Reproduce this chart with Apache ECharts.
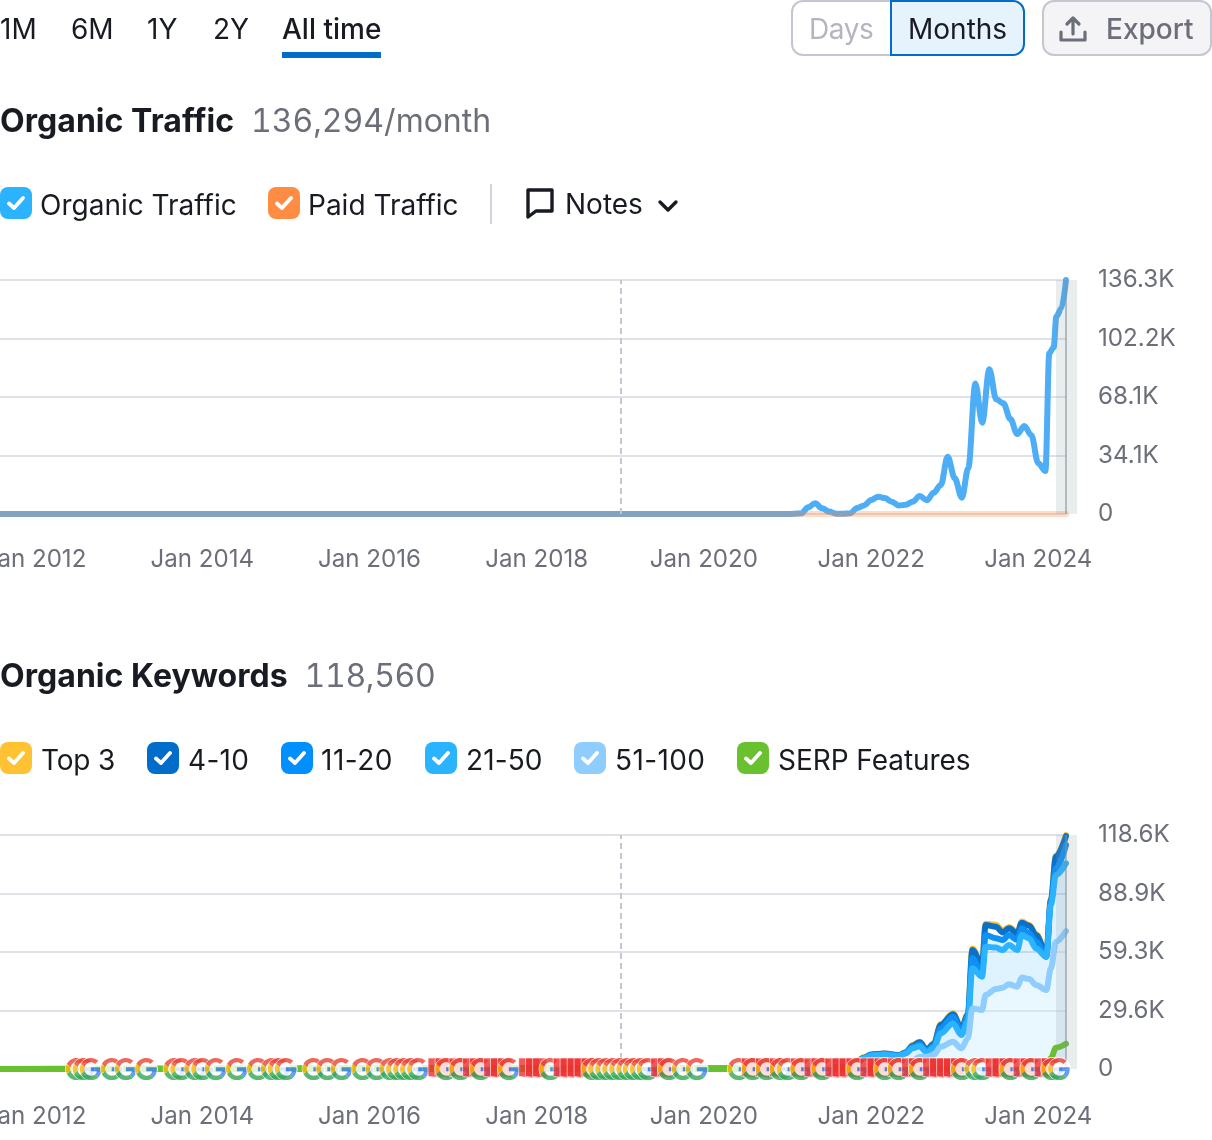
<!DOCTYPE html>
<html><head><meta charset="utf-8">
<script src="https://cdn.jsdelivr.net/npm/echarts@6/dist/echarts.min.js"></script>
<style>
html,body{margin:0;padding:0;background:#fff;width:1212px;height:1140px;overflow:hidden;font-family:Inter,sans-serif}
#chart{position:absolute;left:0;top:0;width:1212px;height:1140px}
#ui{position:absolute;left:0;top:0;width:1212px;height:1140px;overflow:hidden;color:#191b23}
#ui>*{position:absolute;white-space:nowrap;box-sizing:border-box}
.t{font-size:28px;line-height:36px;letter-spacing:0}
.h{font-size:32px;line-height:40px;font-weight:700;letter-spacing:.05px}
.s{font-size:32px;line-height:40px;color:#6c6e79;letter-spacing:0;font-variant-numeric:tabular-nums}
.box{width:32px;height:32px;border-radius:8px;display:flex;align-items:center;justify-content:center}
</style></head><body>
<div id="chart"></div>
<div id="ui"></div>
<script>
// ---- values ----
const trafficDates = ['2011-08-01','2021-01-01','2021-03-01','2021-04-01','2021-05-01','2021-06-01','2021-07-01','2021-08-01','2021-09-01','2021-10-01','2021-11-01','2021-12-01','2022-01-01','2022-02-01','2022-03-01','2022-04-01','2022-05-01','2022-06-01','2022-07-01','2022-08-01','2022-09-01','2022-10-01','2022-11-01','2022-12-01','2023-01-01','2023-02-01','2023-03-01','2023-04-01','2023-05-01','2023-06-01','2023-07-01','2023-08-01','2023-09-01','2023-10-01','2023-11-01','2023-12-01','2024-01-01','2024-02-01','2024-02-18','2024-03-08','2024-03-20','2024-04-11','2024-05-01'];
const organicTraffic = [0,0,400,3900,6200,3300,1400,200,200,400,3500,5000,8200,10100,9300,7200,4900,5400,7200,10500,8000,12400,16900,33400,20800,9500,26600,76000,53200,84300,66800,64500,55300,46600,51300,46000,29500,25000,93600,97100,115000,119800,136294];
const paidDates = ['2011-08-01','2024-05-01'];
const paidTraffic = [0,0];

const keywordDates = ['2011-08-01','2021-06-01','2021-10-01','2021-12-01','2022-01-01','2022-03-01','2022-05-01','2022-06-01','2022-07-01','2022-08-01','2022-09-01','2022-10-01','2022-11-01','2022-12-24','2023-01-30','2023-02-27','2023-03-19','2023-04-30','2023-05-16','2023-06-30','2023-07-29','2023-08-26','2023-10-01','2023-10-21','2023-11-22','2023-12-22','2024-02-05','2024-02-25','2024-03-18','2024-05-01'];
const top3 =   [0,300,1000,5900,7400,7900,7100,8600,12200,13800,10100,13000,22800,28200,21100,27900,61100,53200,73600,73100,70100,72000,69200,74700,73100,68400,59100,86100,108100,118560];
const kw4_10 = [0,300,1000,5700,7300,7800,6900,8400,11800,13500,9800,12700,22300,27700,20600,27400,60300,52700,73000,72100,69200,71300,68700,74100,72600,67900,58600,85600,107600,118000];
const kw11_20 =[0,300,900,5600,7100,7600,6800,8300,11100,12500,9100,11800,20600,26500,18900,26500,56100,48500,67900,66200,65400,67900,65400,71300,68700,64500,56900,84800,101700,113500];
const kw21_50 =[0,200,800,5400,6800,7300,6400,7900,10500,11500,8400,10800,18100,23100,17200,24000,51000,46800,62000,61500,60300,62800,60300,67900,66200,61100,56900,83100,98300,104200];
const kw51_100=[0,100,300,1200,1700,2000,1400,2400,4100,6200,6200,7100,11300,13800,10500,15500,30700,29900,37500,40500,41200,42900,41700,46300,45600,42600,40000,51000,64500,69900];
const serp =   [0,0,0,0,0,0,0,0,0,0,0,0,0,0,0,0,0,0,0,0,0,0,0,0,0,0,300,5400,10800,12800];

const googleMarks = ['2012-07','2012-08','2012-09','2012-12','2013-02','2013-05','2013-09','2013-10','2013-12','2014-01','2014-03','2014-06','2014-09','2014-11','2014-12','2015-01','2015-05','2015-07','2015-09','2015-12','2016-02','2016-04','2016-05','2016-06','2016-07','2016-08','2016-12','2017-02','2017-05','2017-09','2018-03','2018-09','2018-10','2018-11','2018-12','2019-01','2019-02','2019-03','2019-04','2019-05','2019-08','2019-10','2019-12','2020-06','2020-08','2020-10','2020-12','2021-01','2021-03','2021-06','2021-11','2022-03','2022-05','2022-08','2023-02','2023-04','2023-05','2023-09','2023-12','2024-03','2024-04'];
const redMarks = ['2016-10','2016-11','2017-01','2017-03','2017-04','2017-06','2017-07','2017-08','2017-11','2017-12','2018-01','2018-04','2018-05','2018-06','2018-07','2018-08','2019-06','2019-07','2020-07','2020-09','2020-11','2021-02','2021-04','2021-05','2021-07','2021-08','2021-09','2021-10','2021-12','2022-01','2022-02','2022-04','2022-06','2022-07','2022-09','2022-10','2022-11','2022-12','2023-01','2023-06','2023-07','2023-08','2023-10','2023-11','2024-01','2024-02'];

const tickDates = ['2012-01-01','2014-01-01','2016-01-01','2018-01-01','2020-01-01','2022-01-01','2024-01-01'];
const tickLabels = ['Jan 2012','Jan 2014','Jan 2016','Jan 2018','Jan 2020','Jan 2022','Jan 2024'];
const noteDate = '2019-01-01';
const xStart = '2011-08-01', xEnd = '2024-05-01';
const trafficMax = 136294, keywordMax = 118560;

// ---- page furniture as real text ----
const ui = document.getElementById('ui');
function put(cls, css, html){const e=document.createElement('div');e.className=cls;e.style.cssText=css;e.innerHTML=html;ui.appendChild(e);return e;}
const check='<svg width="22" height="18" viewBox="0 0 22 18"><path d="M4 9.5l5 4.5 9-10" fill="none" stroke="#fff" stroke-width="3.8" stroke-linecap="round" stroke-linejoin="round"/></svg>';
function legend(x,y,color,label,tx,ls){put('box',`left:${x}px;top:${y}px;background:${color}`,check);put('t',`left:${tx}px;top:${y}px;letter-spacing:${ls||0}px`,label);}

[['1M',0],['6M',71],['1Y',147],['2Y',213]].forEach(r=>put('t',`left:${r[1]}px;top:11px`,r[0]));
put('t','left:282px;top:11px;font-weight:500','All time');
put('',`left:282px;top:52px;width:99px;height:6px;background:#006dca`,'');
put('',`left:791px;top:0;width:110px;height:56px;border:2px solid #c4c7cf;border-right:none;border-radius:12px 0 0 12px;background:#fff`,'');
put('t',`left:809px;top:11px;color:#b4b6bf;letter-spacing:-.4px`,'Days');
put('',`left:890px;top:0;width:135px;height:56px;border:2px solid #006dca;border-radius:0 12px 12px 0;background:#e6f3fd`,'');
put('t',`left:908px;top:11px`,'Months');
put('',`left:1042px;top:0;width:170px;height:56px;border:2px solid #c4c7cf;border-radius:12px;background:#f4f4f6`,'');
put('',`left:1058px;top:14px;line-height:0`,'<svg width="30" height="30" viewBox="0 0 30 30"><path d="M15 20V4M9 10l6-6 6 6M3 18v8h24v-8" fill="none" stroke="#6c6e79" stroke-width="3.2" stroke-linecap="round" stroke-linejoin="round"/></svg>');
put('t',`left:1106px;top:11px;color:#6c6e79;font-weight:500`,'Export');

put('h','left:0;top:101px','Organic Traffic');
put('s','left:251px;top:101px','136,294/month');
legend(0,187,'#2bb3ff','Organic Traffic',40);
legend(268,187,'#ff8c43','Paid Traffic',308);
put('',`left:490px;top:184px;width:2px;height:40px;background:#d1d4db`,'');
put('',`left:525px;top:187px;line-height:0`,'<svg width="30" height="32" viewBox="0 0 30 32"><path d="M3 3h24v21H11l-8 6z" fill="none" stroke="#191b23" stroke-width="3.4" stroke-linejoin="round"/></svg>');
put('t',`left:565px;top:186px`,'Notes');
put('',`left:657px;top:197px;line-height:0`,'<svg width="22" height="18" viewBox="0 0 22 18"><path d="M3 5l8 8 8-8" fill="none" stroke="#191b23" stroke-width="3.4" stroke-linecap="round" stroke-linejoin="round"/></svg>');

put('h','left:0;top:656px','Organic Keywords');
put('s','left:304.5px;top:656px;letter-spacing:-.3px','118,560');
legend(0,742,'#ffc233','Top 3',41,-.2);
legend(147,742,'#006dca','4-10',188,.3);
legend(281,742,'#008ffc','11-20',321,.5);
legend(425,742,'#2bb3ff','21-50',466,.1);
legend(574,742,'#8fcdff','51-100',615,.4);
legend(737,742,'#6ac12f','SERP Features',778,-.05);

// ---- chart ----
function svgUri(s){return 'image://data:image/svg+xml;charset=utf-8,'+encodeURIComponent(s);}
const gIcon = svgUri('<svg xmlns="http://www.w3.org/2000/svg" width="104" height="104" viewBox="-2 -2 52 52"><circle cx="24" cy="24" r="25.5" fill="#fff"/><path fill="#EA4335" d="M24 9.5c3.54 0 6.71 1.22 9.21 3.6l6.85-6.85C35.9 2.38 30.47 0 24 0 14.62 0 6.51 5.38 2.56 13.22l7.98 6.19C12.43 13.72 17.74 9.5 24 9.5z"/><path fill="#4285F4" d="M46.98 24.55c0-1.57-.15-3.09-.38-4.55H24v9.02h12.94c-.58 2.96-2.26 5.48-4.78 7.18l7.73 6c4.51-4.18 7.09-10.36 7.09-17.65z"/><path fill="#FBBC05" d="M10.53 28.59c-.5-1.45-.78-2.99-.78-4.59s.27-3.14.78-4.59l-7.98-6.19C.92 16.46 0 20.12 0 24c0 3.88.92 7.54 2.56 10.78l7.97-6.19z"/><path fill="#34A853" d="M24 48c6.48 0 11.93-2.13 16.01-5.81l-7.73-6c-2.15 1.45-4.92 2.3-8.28 2.3-6.26 0-11.57-4.22-13.47-9.91l-7.98 6.19C6.51 42.62 14.62 48 24 48z"/></svg>');
const rIcon = svgUri('<svg xmlns="http://www.w3.org/2000/svg" width="104" height="104" viewBox="-2 -2 52 52"><path d="M15 0H46V44L15 40Z" fill="#ef2f2f" stroke="#fff" stroke-width="1.6"/></svg>');

const ts = d => +new Date(d);
const marks = googleMarks.map(d=>[ts(d+'-01'),0,'g']).concat(redMarks.map(d=>[ts(d+'-01'),0,'r'])).sort((a,b)=>a[0]-b[0]);
const zip = (d,v)=>d.map((x,i)=>[ts(x),v[i]]);
const fmtY = v => v===0?'0':(v/1000).toFixed(1)+'K';
const tickVals = tickDates.map(ts);
function xAxis(i){return {type:'value',gridIndex:i,min:ts(xStart),max:ts(xEnd),
  axisLine:{show:false},axisTick:{show:false},splitLine:{show:false},
  axisLabel:{customValues:tickVals,color:'#6c6e79',fontSize:24.1,fontFamily:'Inter',margin:i?36:34,hideOverlap:false,
    showMinLabel:true,showMaxLabel:true,
    formatter:v=>tickLabels[tickVals.indexOf(+v)]||''}};}
function yAxis(i,max){return {type:'value',gridIndex:i,position:'right',min:0,max:max,interval:max/4,
  axisLine:{show:false},axisTick:{show:false},
  splitLine:{lineStyle:{color:'#e0e1e9',width:2}},
  axisLabel:{color:'#6c6e79',fontSize:24.2,fontFamily:'Inter',margin:32,formatter:fmtY}};}
function line(name,i,data,color,extra){return Object.assign({type:'line',name,xAxisIndex:i,yAxisIndex:i,data,
  showSymbol:false,symbol:'none',smooth:0.35,smoothMonotone:'x',clip:false,silent:true,
  lineStyle:{color,width:6,cap:'round',join:'round'}},extra||{});}
function noteLine(){return {silent:true,symbol:'none',label:{show:false},animation:false,
  lineStyle:{color:'#c4c7cf',type:[6,4],width:2},data:[{xAxis:ts(noteDate)}]};}

const chart = echarts.init(document.getElementById('chart'),null,{renderer:'canvas'});
chart.setOption({
  animation:false,
  grid:[{left:0,right:146,top:280,height:234,outerBoundsMode:'none'},{left:0,right:146,top:835,height:234,outerBoundsMode:'none'}],
  xAxis:[xAxis(0),xAxis(1)],
  yAxis:[yAxis(0,trafficMax),yAxis(1,keywordMax)],
  series:[
    line('Organic Traffic',0,zip(trafficDates,organicTraffic),'#4dadf5',{markLine:noteLine(),z:3}),
    line('Paid Traffic',0,zip(paidDates,paidTraffic),'rgba(255,140,67,.3)',{z:4,smooth:false}),
    line('Top 3',1,zip(keywordDates,top3),'#ffc233',{z:3,markLine:noteLine()}),
    line('4-10',1,zip(keywordDates,kw4_10),'#0a70c8',{z:3}),
    line('11-20',1,zip(keywordDates,kw11_20),'#0f90f5',{z:3,areaStyle:{color:'rgba(43,179,255,.22)'}}),
    line('21-50',1,zip(keywordDates,kw21_50),'#2bb3ff',{z:3}),
    line('51-100',1,zip(keywordDates,kw51_100),'#8fcdff',{z:3,areaStyle:{color:'rgba(255,255,255,.45)'}}),
    line('SERP Features',1,zip(keywordDates,serp),'#6ac12f',{z:3}),
    {type:'scatter',name:'Google updates',xAxisIndex:1,yAxisIndex:1,data:marks,z:10,clip:false,silent:true,
      symbolSize:24,symbol:v=>v[2]==='g'?gIcon:rIcon}
  ]
});
// grey "incomplete period" band straddling the latest month
function bands(){
  const out=[];
  [0,1].forEach(i=>{
    const xr=chart.convertToPixel({gridIndex:i},[ts(xEnd),0]);
    const xt=chart.convertToPixel({gridIndex:i},[ts(xEnd),i?keywordMax:trafficMax]);
    const x=xr[0],top=xt[1],h=xr[1]-xt[1];
    out.push({type:'rect',z:5,silent:true,shape:{x:x-10,y:top,width:21,height:h},style:{fill:'rgba(130,150,155,.17)'}});
    out.push({type:'rect',z:5,silent:true,shape:{x:x-1,y:top,width:2,height:h},style:{fill:'rgba(130,145,155,.55)'}});
  });
  return out;
}
chart.setOption({graphic:bands()});
</script>
</body></html>
